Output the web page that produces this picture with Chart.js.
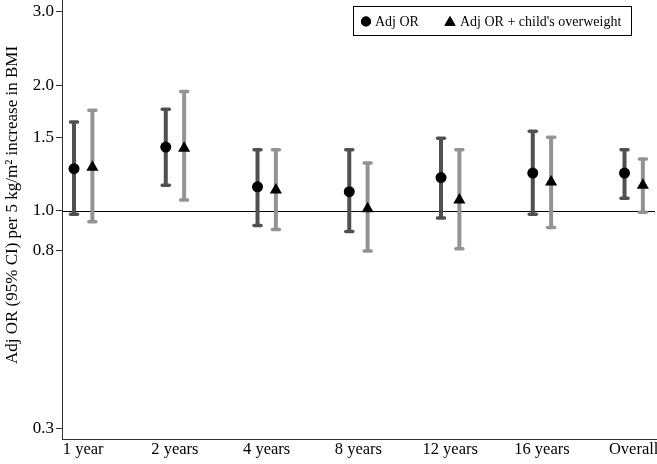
<!DOCTYPE html>
<html>
<head>
<meta charset="utf-8">
<script src="https://cdn.jsdelivr.net/npm/chart.js@4"></script>
<style>
  html, body { margin: 0; padding: 0; background: #fff; }
  #wrap { width: 657px; height: 464px; position: relative; }
</style>
</head>
<body>
<div id="wrap"><canvas id="myChart"></canvas></div>
<script>
// data
const categories = ['1 year', '2 years', '4 years', '8 years', '12 years', '16 years', 'Overall'];
const adjOR   = [1.26, 1.42, 1.14, 1.11, 1.20, 1.23, 1.23];
const adjLow  = [0.98, 1.15, 0.92, 0.89, 0.96, 0.98, 1.07];
const adjHigh = [1.63, 1.75, 1.40, 1.40, 1.49, 1.55, 1.40];
const owOR    = [1.27, 1.41, 1.12, 1.01, 1.06, 1.17, 1.15];
const owLow   = [0.94, 1.06, 0.90, 0.80, 0.81, 0.91, 0.99];
const owHigh  = [1.74, 1.93, 1.40, 1.30, 1.40, 1.50, 1.33];
const yTicks  = [0.3, 0.8, 1.0, 1.5, 2.0, 3.0];
const yTitle  = 'Adj OR (95% CI) per 5 kg/m\u00B2 increase in BMI';

const FONT = '"Liberation Serif", "Times New Roman", serif';
const DARK = '#505050';
const LIGHT = '#939393';
const shift = 0.1;

function points(vals, lo, hi, dx) {
  return categories.map((c, i) => ({ x: i + 1 + dx, y: vals[i], lo: lo[i], hi: hi[i] }));
}

// error bars drawn with the chart's own scales
const errorBars = {
  id: 'errorBars',
  beforeDatasetsDraw(chart) {
    const ctx = chart.ctx;
    const ys = chart.scales.y;
    const area = chart.chartArea;
    // reference line at 1.0
    ctx.save();
    ctx.strokeStyle = '#000';
    ctx.lineWidth = 1;
    const y1 = Math.round(ys.getPixelForValue(1)) + 0.5;
    ctx.beginPath();
    ctx.moveTo(area.left, y1);
    ctx.lineTo(area.right - 2, y1);
    ctx.stroke();

    chart.data.datasets.forEach((ds, di) => {
      const meta = chart.getDatasetMeta(di);
      ctx.strokeStyle = ds.barColor;
      meta.data.forEach((pt, j) => {
        const d = ds.data[j];
        const yl = ys.getPixelForValue(d.lo);
        const yh = ys.getPixelForValue(d.hi);
        ctx.lineCap = 'butt';
        ctx.lineWidth = 4;
        ctx.beginPath();
        ctx.moveTo(pt.x, yl);
        ctx.lineTo(pt.x, yh);
        ctx.stroke();
        ctx.lineCap = 'round';
        ctx.lineWidth = 3.5;
        [yl, yh].forEach(yy => {
          ctx.beginPath();
          ctx.moveTo(pt.x - 3.5, yy);
          ctx.lineTo(pt.x + 3.5, yy);
          ctx.stroke();
        });
      });
    });
    ctx.restore();
  },
  afterDraw(chart) {
    const ctx = chart.ctx;
    ctx.save();
    // y axis title
    ctx.fillStyle = '#000';
    ctx.font = '17px ' + FONT;
    ctx.textAlign = 'center';
    ctx.textBaseline = 'middle';
    ctx.translate(13, 205);
    ctx.rotate(-Math.PI / 2);
    ctx.fillText(yTitle, 0, 0);
    ctx.restore();

    // legend box
    ctx.save();
    ctx.strokeStyle = '#000';
    ctx.lineWidth = 1;
    ctx.strokeRect(353.5, 6.5, 278, 29);
    ctx.font = '14px ' + FONT;
    ctx.fillStyle = '#000';
    ctx.textBaseline = 'middle';
    ctx.textAlign = 'left';
    const ly = 21.5;
    const ds = chart.data.datasets;
    Chart.helpers.drawPoint(ctx, { pointStyle: 'circle', radius: 5, borderWidth: 0 }, 366, ly);
    ctx.fill();
    ctx.fillText(ds[0].label, 375, ly + 1);
    Chart.helpers.drawPoint(ctx, { pointStyle: 'triangle', radius: 6.5, borderWidth: 0 }, 450, ly + 1);
    ctx.fill();
    ctx.fillText(ds[1].label, 460, ly + 1);
    ctx.restore();
  }
};

const chart = new Chart(document.getElementById('myChart'), {
  type: 'scatter',
  data: {
    datasets: [
      {
        label: 'Adj OR',
        data: points(adjOR, adjLow, adjHigh, -shift),
        barColor: DARK,
        pointStyle: 'circle',
        pointRadius: 5.5,
        pointHoverRadius: 5.5,
        backgroundColor: '#000',
        borderWidth: 0
      },
      {
        label: "Adj OR + child's overweight",
        data: points(owOR, owLow, owHigh, shift),
        barColor: LIGHT,
        pointStyle: 'triangle',
        pointRadius: 7,
        pointHoverRadius: 7,
        backgroundColor: '#000',
        borderWidth: 0
      }
    ]
  },
  options: {
    responsive: true,
    maintainAspectRatio: false,
    animation: false,
    layout: { padding: 0, autoPadding: false },
    plugins: { legend: { display: false }, tooltip: { enabled: false } },
    scales: {
      x: {
        type: 'linear',
        min: 0.769,
        max: 7.254,
        afterBuildTicks(axis) { axis.ticks = categories.map((c, i) => ({ value: i + 1 })); },
        afterFit(axis) {
          axis.height = 25;
          axis.paddingLeft = 0;
          axis.paddingRight = 0;
        },
        ticks: {
          callback: (v) => categories[Math.round(v) - 1],
          color: '#000',
          font: { family: FONT, size: 16.5 },
          padding: 1,
          maxRotation: 0,
          autoSkip: false
        },
        grid: { display: false, drawTicks: false },
        border: { display: true, color: '#333', width: 1 }
      },
      y: {
        type: 'logarithmic',
        min: 0.283,
        max: 3.2,
        afterBuildTicks(axis) { axis.ticks = yTicks.map(v => ({ value: v })); },
        afterFit(axis) {
          axis.width = 62;
          axis.paddingTop = 0;
          axis.paddingBottom = 0;
        },
        ticks: {
          callback: (v) => Number(v).toFixed(1),
          color: '#000',
          font: { family: FONT, size: 17 },
          padding: 2,
          autoSkip: false
        },
        grid: { drawOnChartArea: false, tickLength: 6, color: '#333' },
        border: { display: true, color: '#333', width: 1 }
      }
    }
  },
  plugins: [errorBars]
});
</script>
</body>
</html>
